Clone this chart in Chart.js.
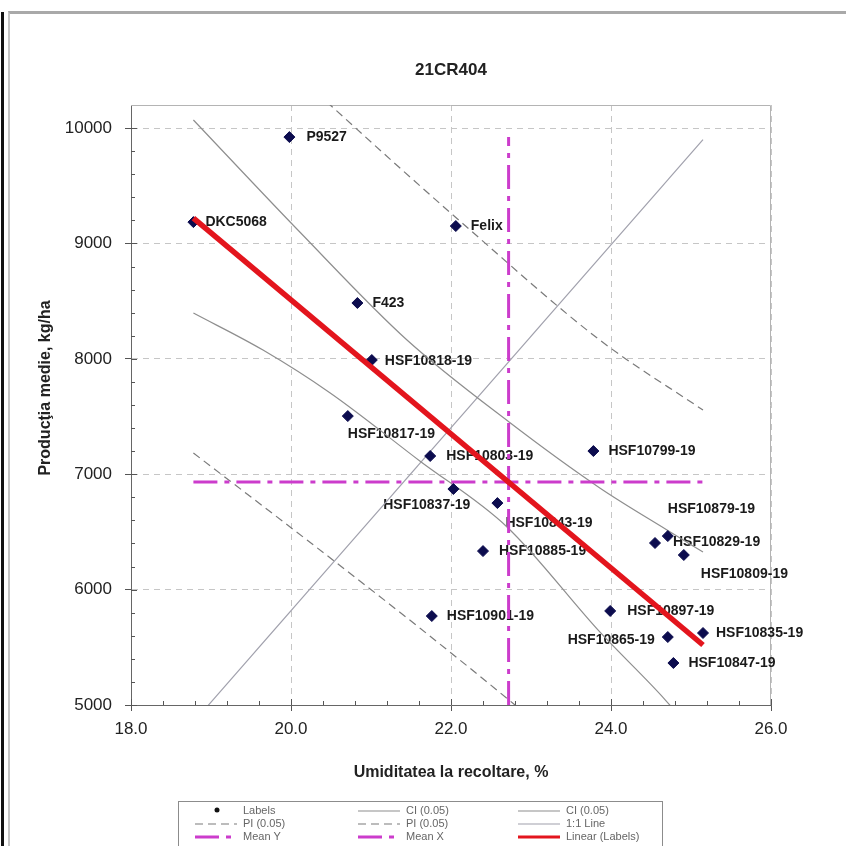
<!DOCTYPE html>
<html>
<head>
<meta charset="utf-8">
<script src="https://cdn.jsdelivr.net/npm/chart.js@4.4.1/dist/chart.umd.min.js"></script>
<style>
  html, body { margin: 0; padding: 0; background: #fff; }
  #wrap { position: relative; width: 846px; height: 846px; overflow: hidden; }
  #edge { position: absolute; left: 1px; top: 12px; width: 3px; height: 834px; background: #111; }
  #frame { position: absolute; left: 8px; top: 11px; width: 838px; height: 835px;
           border-top: 3px solid #a9a9a9; border-left: 2px solid #c4c4c4; box-sizing: border-box; }
  canvas { position: absolute; left: 0; top: 0; }
</style>
</head>
<body>
<div id="wrap">
  <div id="edge"></div>
  <div id="frame"></div>
  <canvas id="chart" width="846" height="846"></canvas>
</div>
<script>
// hybrids (point labels), harvest moisture %, mean yield kg/ha
const hybrids = ["DKC5068", "P9527", "Felix", "F423", "HSF10818-19", "HSF10817-19",
  "HSF10803-19", "HSF10837-19", "HSF10843-19", "HSF10885-19", "HSF10799-19",
  "HSF10879-19", "HSF10829-19", "HSF10809-19", "HSF10897-19", "HSF10835-19",
  "HSF10865-19", "HSF10847-19", "HSF10901-19"];
const moisture = [18.78, 19.98, 22.06, 20.83, 21.01, 20.71, 21.74, 22.03, 22.58, 22.40,
  23.78, 24.71, 24.55, 24.91, 23.99, 25.15, 24.71, 24.78, 21.76];
const yieldKg = [9185, 9922, 9151, 8484, 7990, 7504, 7158, 6872, 6750, 6334,
  7201, 6464, 6404, 6300, 5815, 5624, 5589, 5364, 5771];
// where each label sits next to its point: [dx, dy, align]
const labelOffsets = [[12, 0, "left"], [17, 0, "left"], [15, 0, "left"], [15, 0, "left"],
  [13, 1, "left"], [0, 18, "left"], [16, 0, "left"], [17, 16, "right"], [8, 20, "left"],
  [16, 0, "left"], [15, 0, "left"], [0, -27, "left"], [18, -1, "left"], [17, 19, "left"],
  [17, 0, "left"], [13, 0, "left"], [-13, 3, "right"], [15, 0, "left"], [15, 0, "left"]];

// confidence / prediction bands
const ciUpperX = [18.78, 20.11, 21.45, 22.73, 23.86, 24.70, 25.15];
const ciUpperY = [10070, 9099, 8163, 7450, 6881, 6517, 6326];
const ciLowerX = [18.78, 19.65, 20.49, 21.61, 22.70, 23.86, 24.68, 25.15];
const ciLowerY = [8397, 8076, 7704, 7115, 6543, 5633, 5043, 4653];
const piUpperX = [18.78, 20.49, 22.24, 23.86, 25.15];
const piUpperY = [11300, 10200, 9116, 8163, 7556];
const piLowerX = [18.78, 20.20, 21.61, 22.80, 25.15];
const piLowerY = [7184, 6430, 5667, 5000, 3613];
const oneToOneX = [18.78, 25.15];
const oneToOneY = [4850, 9900];
const fitX = [18.78, 25.15];
const fitY = [9220, 5520];
const meanX = 22.72;
const meanY = 6932;
const meanYSpanX = [18.78, 25.15];
const meanXSpanY = [5000, 9922];

// axes
const xTickValues = [18, 20, 22, 24, 26];
const yTickValues = [5000, 6000, 7000, 8000, 9000, 10000];
const xMin = 18, xMax = 26;
const yMin = 5000, yMax = 10200;

const pts = (xs, ys) => xs.map((v, i) => ({ x: v, y: ys[i] }));

const FONT = "'Liberation Sans', Arial, sans-serif";
Chart.defaults.font.family = FONT;

const decor = {
  id: "decor",
  beforeDatasetsDraw(chart) {
    const { ctx, chartArea: a, scales: { x, y } } = chart;
    ctx.save();
    ctx.strokeStyle = "#b4b4b4";
    ctx.lineWidth = 1;
    ctx.beginPath();
    ctx.moveTo(a.left, a.top + 0.5); ctx.lineTo(a.right - 0.5, a.top + 0.5);
    ctx.lineTo(a.right - 0.5, a.bottom);
    ctx.stroke();

    // inner major ticks + minor ticks
    ctx.strokeStyle = "#555";
    ctx.beginPath();
    y.ticks.forEach((t, i) => {
      const p = Math.round(y.getPixelForValue(t.value)) + 0.5;
      ctx.moveTo(a.left, p); ctx.lineTo(a.left + 6, p);
      const n = y.ticks[i + 1];
      if (n) for (let k = 1; k < 5; k++) {
        const q = Math.round(y.getPixelForValue(t.value + (n.value - t.value) * k / 5)) + 0.5;
        ctx.moveTo(a.left, q); ctx.lineTo(a.left + 4, q);
      }
    });
    x.ticks.forEach((t, i) => {
      const p = Math.round(x.getPixelForValue(t.value)) + 0.5;
      ctx.moveTo(p, a.bottom); ctx.lineTo(p, a.bottom - 6);
      const n = x.ticks[i + 1];
      if (n) for (let k = 1; k < 5; k++) {
        const q = Math.round(x.getPixelForValue(t.value + (n.value - t.value) * k / 5)) + 0.5;
        ctx.moveTo(q, a.bottom); ctx.lineTo(q, a.bottom - 4);
      }
    });
    ctx.stroke();

    // point labels
    ctx.fillStyle = "#1a1a1a";
    ctx.font = "bold 14px " + FONT;
    ctx.textBaseline = "middle";
    hybrids.forEach((name, i) => {
      const [dx, dy, al] = labelOffsets[i];
      ctx.textAlign = al;
      ctx.fillText(name, x.getPixelForValue(moisture[i]) + dx, y.getPixelForValue(yieldKg[i]) + dy);
    });
    ctx.restore();
  },
  afterDraw(chart) {
    const { ctx, chartArea: a } = chart;
    ctx.save();
    ctx.fillStyle = "#222";
    ctx.textAlign = "center";
    ctx.textBaseline = "middle";
    ctx.font = "bold 17px " + FONT;
    ctx.fillText("21CR404", (a.left + a.right) / 2, 70);
    ctx.font = "bold 16px " + FONT;
    ctx.fillText("Umiditatea la recoltare, %", (a.left + a.right) / 2, 773);
    ctx.translate(46, 388);
    ctx.rotate(-Math.PI / 2);
    ctx.fillText("Producţia medie, kg/ha", 0, 0);
    ctx.restore();

    // legend box, three columns
    ctx.save();
    ctx.strokeStyle = "#8c8c8c";
    ctx.lineWidth = 1;
    ctx.strokeRect(178.5, 801.5, 484, 70);
    const cols = [195, 358, 518], rows = [811, 824, 837];
    ctx.font = "11px " + FONT;
    ctx.textBaseline = "middle";
    ctx.textAlign = "left";
    chart.data.datasets.forEach((ds, i) => {
      const cx = cols[i % 3], cy = rows[Math.floor(i / 3)];
      if (ds.showLine === false) {
        ctx.fillStyle = "#111";
        ctx.beginPath(); ctx.arc(cx + 22, cy - 1, 2.5, 0, Math.PI * 2); ctx.fill();
      } else {
        ctx.strokeStyle = ds.borderColor;
        ctx.lineWidth = Math.min(ds.borderWidth, 3);
        ctx.setLineDash(ds.borderDash || []);
        ctx.beginPath(); ctx.moveTo(cx, cy); ctx.lineTo(cx + 42, cy); ctx.stroke();
        ctx.setLineDash([]);
      }
      ctx.fillStyle = "#666";
      ctx.fillText(ds.label, cx + 48, cy);
    });
    ctx.restore();
  }
};

const line = (label, data, color, width, dash, order, smooth) => ({
  type: "line", label, data, borderColor: color, backgroundColor: color,
  borderWidth: width, borderDash: dash, pointRadius: 0, fill: false,
  cubicInterpolationMode: smooth ? "monotone" : "default", tension: 0, order
});

new Chart(document.getElementById("chart"), {
  type: "scatter",
  data: {
    datasets: [
      { label: "Labels", data: pts(moisture, yieldKg), showLine: false,
        pointStyle: "rectRot", pointRadius: 5.5, pointHoverRadius: 5.5,
        backgroundColor: "#0c0c4e", borderColor: "#0c0c4e", borderWidth: 1, order: 1 },
      line("CI (0.05)", pts(ciUpperX, ciUpperY), "#8e8e8e", 1.2, [], 3, true),
      line("CI (0.05)", pts(ciLowerX, ciLowerY), "#8e8e8e", 1.2, [], 3, true),
      line("PI (0.05)", pts(piUpperX, piUpperY), "#7a7a7a", 1.2, [8, 5], 3, true),
      line("PI (0.05)", pts(piLowerX, piLowerY), "#7a7a7a", 1.2, [8, 5], 3, true),
      line("1:1 Line", pts(oneToOneX, oneToOneY), "#a0a0ac", 1.2, [], 3),
      line("Mean Y", pts(meanYSpanX, [meanY, meanY]), "#cc3ccc", 3, [24, 7, 5, 7], 2),
      line("Mean X", pts([meanX, meanX], meanXSpanY), "#cc3ccc", 3, [24, 7, 5, 7], 2),
      line("Linear (Labels)", pts(fitX, fitY), "#e3151d", 5.5, [], 0)
    ]
  },
  options: {
    responsive: false,
    animation: false,
    events: [],
    layout: { padding: { left: 20, right: 75, top: 105, bottom: 0 } },
    plugins: { legend: { display: false }, title: { display: false }, tooltip: { enabled: false } },
    scales: {
      x: {
        type: "linear", min: xMin, max: xMax,
        afterFit: s => { s.height = 141; },
        afterBuildTicks: s => { s.ticks = xTickValues.map(v => ({ value: v })); },
        ticks: { padding: 8, color: "#222", font: { size: 17 }, callback: v => v.toFixed(1) },
        grid: { color: "#c6c6c6", lineWidth: 1, tickLength: 6, tickColor: "#555" },
        border: { color: "#666", width: 1, dash: [6, 5] }
      },
      y: {
        type: "linear", min: yMin, max: yMax,
        afterFit: s => { s.width = 111; },
        afterBuildTicks: s => { s.ticks = yTickValues.map(v => ({ value: v })); },
        ticks: { padding: 13, color: "#222", font: { size: 17 }, callback: v => String(v) },
        grid: { color: "#c6c6c6", lineWidth: 1, tickLength: 6, tickColor: "#555" },
        border: { color: "#666", width: 1, dash: [6, 5] }
      }
    }
  },
  plugins: [decor]
});
</script>
</body>
</html>
